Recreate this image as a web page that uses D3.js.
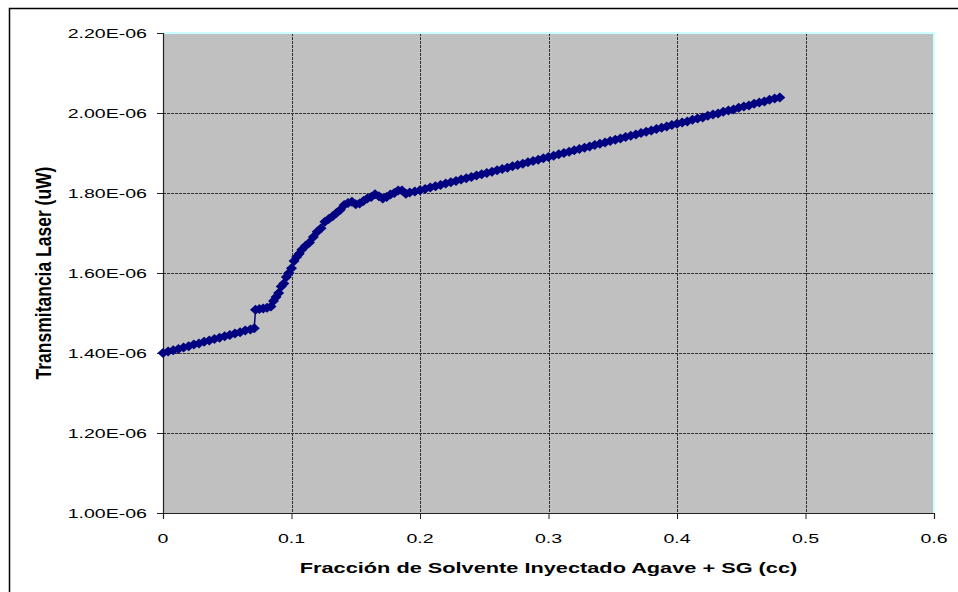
<!DOCTYPE html>
<html>
<head>
<meta charset="utf-8">
<script src="https://cdn.jsdelivr.net/npm/d3@7"></script>
<style>
  body { margin: 0; background: #fff; }
  svg text { font-family: Arial, 'Liberation Sans', sans-serif; fill: #000; }
</style>
</head>
<body>
<script>
// fraccion de solvente (cc) vs transmitancia (unidades de 1E-06 uW)
const fraccion = [
  0.000, 0.004, 0.008, 0.012, 0.016, 0.020, 0.024, 0.028, 0.032, 0.036,
  0.040, 0.044, 0.048, 0.052, 0.056, 0.060, 0.064, 0.068, 0.071,
  0.072, 0.075, 0.078, 0.081, 0.084, 0.086, 0.088, 0.090, 0.092, 0.094,
  0.096, 0.098, 0.100, 0.102, 0.104, 0.106, 0.108, 0.111, 0.114, 0.117,
  0.120, 0.123, 0.126, 0.129, 0.132, 0.135, 0.138, 0.141, 0.144, 0.147,
  0.150, 0.153, 0.156, 0.159, 0.162, 0.165, 0.168, 0.171, 0.174, 0.177,
  0.180, 0.183, 0.186, 0.189, 0.192, 0.196, 0.200,
  0.204, 0.208, 0.212, 0.216, 0.220, 0.224, 0.228, 0.232, 0.236, 0.240,
  0.244, 0.248, 0.252, 0.256, 0.260, 0.264, 0.268, 0.272, 0.276, 0.280,
  0.284, 0.288, 0.292, 0.296, 0.300, 0.304, 0.308, 0.312, 0.316, 0.320,
  0.324, 0.328, 0.332, 0.336, 0.340, 0.344, 0.348, 0.352, 0.356, 0.360,
  0.364, 0.368, 0.372, 0.376, 0.380, 0.384, 0.388, 0.392, 0.396, 0.400,
  0.404, 0.408, 0.412, 0.416, 0.420, 0.424, 0.428, 0.432, 0.436, 0.440,
  0.444, 0.448, 0.452, 0.456, 0.460, 0.464, 0.468, 0.472, 0.476, 0.480
];
const transmitancia = [
  1.400, 1.404, 1.407, 1.410, 1.414, 1.417, 1.421, 1.424, 1.428, 1.431,
  1.435, 1.438, 1.442, 1.445, 1.449, 1.452, 1.456, 1.459, 1.462,
  1.508, 1.510, 1.511, 1.513, 1.516, 1.530, 1.540, 1.550, 1.566, 1.574,
  1.590, 1.600, 1.612, 1.630, 1.640, 1.648, 1.658, 1.668, 1.676, 1.690,
  1.703, 1.712, 1.728, 1.735, 1.742, 1.750, 1.758, 1.770, 1.775, 1.778,
  1.772, 1.774, 1.780, 1.786, 1.790, 1.797, 1.792, 1.786, 1.790, 1.796,
  1.800, 1.806, 1.806, 1.798, 1.801, 1.804, 1.807,
  1.810, 1.814, 1.817, 1.820, 1.824, 1.827, 1.830, 1.834, 1.837, 1.840,
  1.844, 1.847, 1.850, 1.853, 1.857, 1.860, 1.863, 1.867, 1.870, 1.873,
  1.877, 1.880, 1.883, 1.887, 1.890, 1.893, 1.897, 1.900, 1.903, 1.907,
  1.910, 1.913, 1.916, 1.920, 1.923, 1.926, 1.930, 1.933, 1.936, 1.940,
  1.943, 1.946, 1.950, 1.953, 1.956, 1.960, 1.963, 1.966, 1.970, 1.973,
  1.976, 1.979, 1.983, 1.986, 1.989, 1.993, 1.996, 1.999, 2.003, 2.006,
  2.009, 2.013, 2.016, 2.019, 2.023, 2.026, 2.029, 2.033, 2.036, 2.039
];

const xTicks = [0, 0.1, 0.2, 0.3, 0.4, 0.5, 0.6];
const xTickLabels = ['0', '0.1', '0.2', '0.3', '0.4', '0.5', '0.6'];
const yTicks = [1.0, 1.2, 1.4, 1.6, 1.8, 2.0, 2.2];
const yTickLabels = ['1.00E-06', '1.20E-06', '1.40E-06', '1.60E-06', '1.80E-06', '2.00E-06', '2.20E-06'];

const width = 958;
const height = 592;
const plot = { left: 163, top: 33, right: 934, bottom: 513 };
const STRETCH = 1.45; // el original se ve estirado en horizontal

const data = fraccion.map((f, i) => ({ x: f, y: transmitancia[i] }));

const svg = d3.select('body')
  .append('svg')
  .attr('width', width)
  .attr('height', height);

// marco exterior
svg.append('rect')
  .attr('x', 9.5).attr('y', 8.5)
  .attr('width', width + 10).attr('height', height + 10)
  .attr('fill', 'none')
  .attr('stroke', '#000')
  .attr('stroke-width', 1.5);

const x = d3.scaleLinear().domain([0, 0.6]).range([plot.left, plot.right]);
const y = d3.scaleLinear().domain([1.0, 2.2]).range([plot.bottom, plot.top]);

// fondo gris
svg.append('rect')
  .attr('x', plot.left).attr('y', plot.top)
  .attr('width', plot.right - plot.left).attr('height', plot.bottom - plot.top)
  .attr('fill', '#c0c0c0');

// rejilla
svg.append('g')
  .selectAll('line')
  .data(yTicks.slice(1, -1))
  .join('line')
  .attr('x1', plot.left).attr('x2', plot.right)
  .attr('y1', d => Math.round(y(d)) + 0.5).attr('y2', d => Math.round(y(d)) + 0.5)
  .attr('stroke', '#303030')
  .attr('stroke-dasharray', '3,1');

svg.append('g')
  .selectAll('line')
  .data(xTicks.slice(1, -1))
  .join('line')
  .attr('x1', d => Math.round(x(d)) + 0.5).attr('x2', d => Math.round(x(d)) + 0.5)
  .attr('y1', plot.top).attr('y2', plot.bottom)
  .attr('stroke', '#303030')
  .attr('stroke-dasharray', '3,1');

// borde claro arriba y a la derecha
svg.append('path')
  .attr('d', `M${plot.left},${plot.top}H${plot.right}V${plot.bottom}`)
  .attr('fill', 'none')
  .attr('stroke', '#ccffff')
  .attr('stroke-width', 2);

// ejes
const yAxis = svg.append('g')
  .attr('transform', `translate(${plot.left},0)`)
  .call(d3.axisLeft(y).tickValues(yTicks).tickSize(6).tickFormat(''));
const xAxis = svg.append('g')
  .attr('transform', `translate(0,${plot.bottom})`)
  .call(d3.axisBottom(x).tickValues(xTicks).tickSize(6).tickFormat(''));
[yAxis, xAxis].forEach(a => {
  a.select('.domain').attr('stroke', '#222').attr('stroke-width', 1.2);
  a.selectAll('.tick line').attr('stroke', '#222');
});

// etiquetas de los ejes
svg.append('g')
  .selectAll('text')
  .data(yTicks)
  .join('text')
  .attr('transform', (d) => `translate(${plot.left - 16},${y(d) + 4.5}) scale(${STRETCH},1)`)
  .attr('text-anchor', 'end')
  .style('font-size', '13.5px')
  .text((d, i) => yTickLabels[i]);

svg.append('g')
  .selectAll('text')
  .data(xTicks)
  .join('text')
  .attr('transform', (d) => `translate(${x(d)},${plot.bottom + 30}) scale(${STRETCH},1)`)
  .attr('text-anchor', 'middle')
  .style('font-size', '13.5px')
  .text((d, i) => xTickLabels[i]);

svg.append('text')
  .attr('transform', `translate(${(plot.left + plot.right) / 2},573) scale(${STRETCH},1)`)
  .attr('text-anchor', 'middle')
  .style('font-size', '15px')
  .style('font-weight', 'bold')
  .text('Fracción de Solvente Inyectado Agave + SG (cc)');

svg.append('text')
  .attr('transform', `translate(51,${(plot.top + plot.bottom) / 2}) scale(1.3,1) rotate(-90)`)
  .attr('text-anchor', 'middle')
  .style('font-size', '17.5px')
  .style('font-weight', 'bold')
  .text('Transmitancia Laser (uW)');

// serie
const line = d3.line().x(d => x(d.x)).y(d => y(d.y));

svg.append('path')
  .datum(data)
  .attr('d', line)
  .attr('fill', 'none')
  .attr('stroke', '#000080')
  .attr('stroke-width', 1.5);

svg.append('g')
  .selectAll('path')
  .data(data)
  .join('path')
  .attr('transform', d => `translate(${x(d.x)},${y(d.y)})`)
  .attr('d', 'M0,-5L5.5,0L0,5L-5.5,0Z')
  .attr('fill', '#000080');
</script>
</body>
</html>
